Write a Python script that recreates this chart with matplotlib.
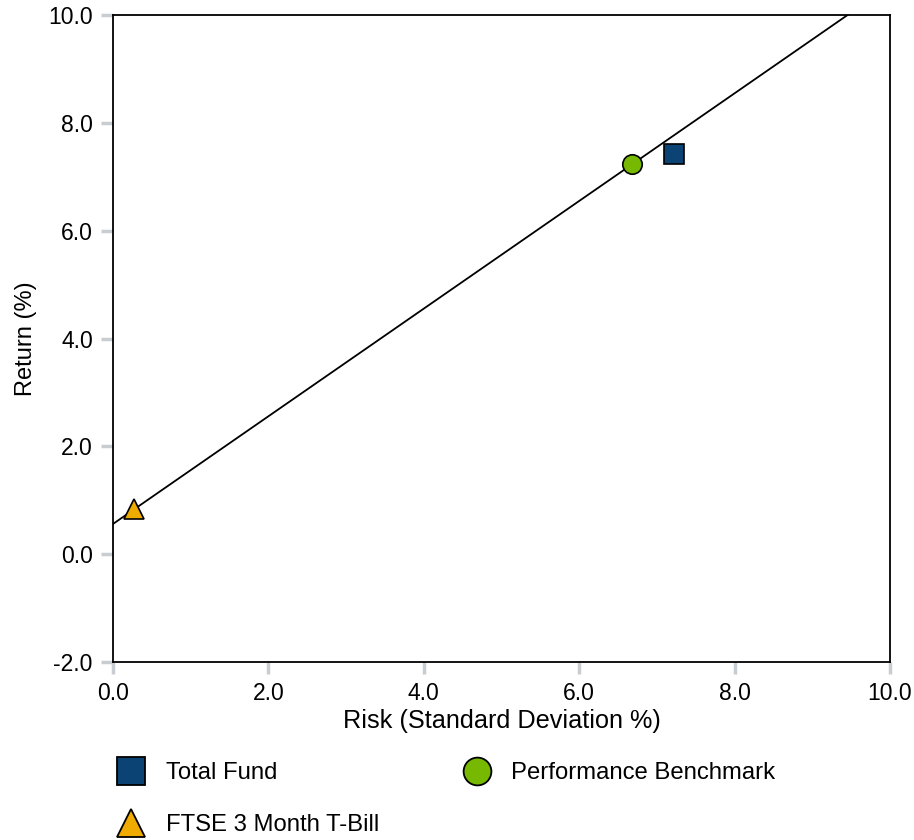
import matplotlib
matplotlib.use("Agg")
import matplotlib.pyplot as plt
from matplotlib.lines import Line2D

plt.rcParams['font.family'] = ['Liberation Sans', 'DejaVu Sans']

# risk / return points
names = ['Total Fund', 'Performance Benchmark', 'FTSE 3 Month T-Bill']
risk = [7.22, 6.68, 0.27]
ret = [7.42, 7.23, 0.83]
markers = ['s', 'o', '^']
colors = ['#0b4474', '#76b900', '#f0ab00']

xticks = [0, 2, 4, 6, 8, 10]
yticks = [-2, 0, 2, 4, 6, 8, 10]

fig = plt.figure(figsize=(9.14, 8.4), dpi=100)
ax = fig.add_axes([113 / 914, 178 / 840, 777 / 914, 647 / 840])

# capital market line through T-bill and benchmark
ax.axline((risk[2], ret[2]), (risk[1], ret[1]), color='black', lw=1.3, zorder=2)

for i in range(3):
    ax.plot(risk[i], ret[i], marker=markers[i], color=colors[i], mec='black',
            mew=1.2, ms=14, ls='none', zorder=3, clip_on=False)

ax.set_xlim(0, 10)
ax.set_ylim(-2, 10)
ax.set_xticks(xticks)
ax.set_yticks(yticks)
ax.set_xticklabels(['%.1f' % v for v in xticks])
ax.set_yticklabels(['%.1f' % v for v in yticks])
ax.tick_params(length=8.5, width=2.5, color='#c8cdd2', labelsize=16.5, pad=6)
for s in ax.spines.values():
    s.set_linewidth(1.3)

ax.set_xlabel('Risk (Standard Deviation %)', fontsize=18.2, labelpad=3)
ax.set_ylabel('Return (%)', fontsize=17, labelpad=8)

handles = [Line2D([], [], marker=markers[i], color=colors[i], mec='black', mew=1.3,
                  ms=20, ls='none') for i in [0, 2, 1]]
labels = [names[i] for i in [0, 2, 1]]
fig.legend(handles, labels, ncol=2, loc='upper left', bbox_to_anchor=(119 / 914, 1 - 762 / 840),
           frameon=False, fontsize=17.2, handlelength=1.0, handletextpad=0.95,
           columnspacing=3.6, labelspacing=1.25, borderaxespad=0, borderpad=0)

fig.savefig('out.png', dpi=100)
